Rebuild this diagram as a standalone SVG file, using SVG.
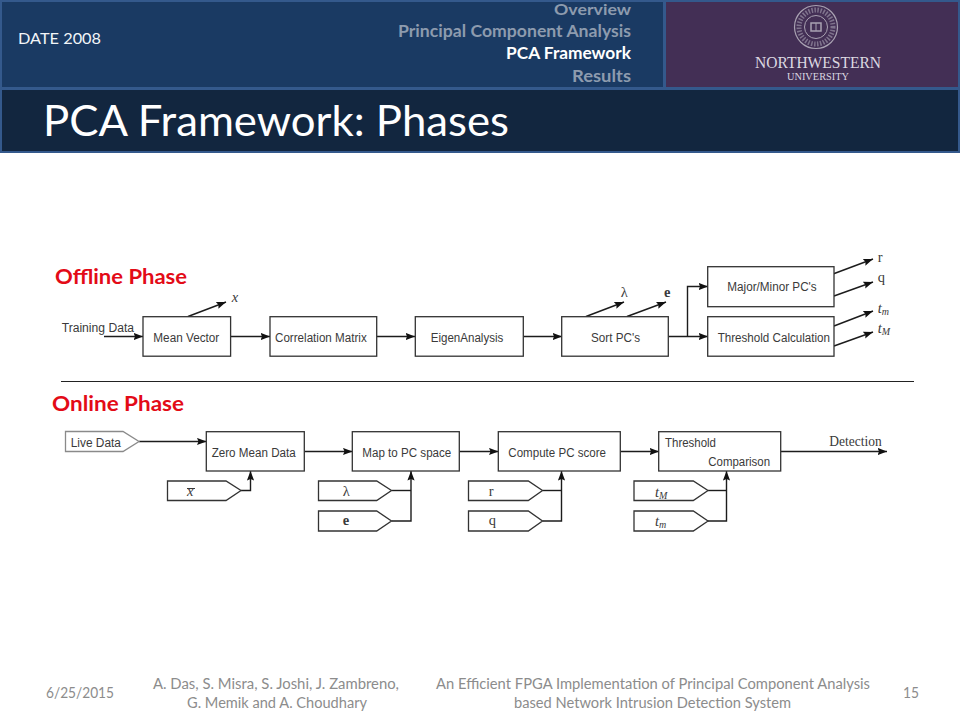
<svg xmlns="http://www.w3.org/2000/svg" width="960" height="720" viewBox="0 0 960 720">
<style>
.ui{font-family:"Lato","Open Sans","Liberation Sans",sans-serif}
.nav{font-size:17px;font-weight:700;fill:#8d9bae;text-anchor:start}
.foot{font-size:14.5px;fill:#8c8c8c}
.phase{font-size:21px;font-weight:700;fill:#e30b17}
.box{fill:#fff;stroke:#333;stroke-width:1.3}
.tag{fill:#fff;stroke:#333;stroke-width:1.3}
.lbl{font-family:"Liberation Sans",Arial,sans-serif;font-size:12.5px;fill:#3a3a3a}
.math{font-family:"Liberation Serif","DejaVu Serif",serif;font-size:14.5px;fill:#3a3a3a}
.it{font-style:italic}
.sub{font-size:10px}
.wire{fill:none;stroke:#1c1c1c;stroke-width:1.4}
.arr{marker-end:url(#head)}
.seal{fill:none;stroke:#a9a2b2}
</style>
<defs>
<marker id="head" markerUnits="userSpaceOnUse" markerWidth="11" markerHeight="8" refX="9.5" refY="4" orient="auto">
<path d="M0,0.4L9.5,4L0,7.6L1.5,4Z" fill="#111"/>
</marker>
</defs>
<rect width="960" height="720" fill="#fff"/>

<g id="header">
<rect x="0" y="0" width="960" height="153" fill="#34598c"/>
<rect x="2" y="2" width="661" height="85" fill="#1a3a63"/>
<rect x="666" y="2" width="292" height="85" fill="#432f55"/>
<rect x="2" y="90" width="956" height="61" fill="#12263f"/>
<text class="ui" x="18" y="44" font-size="16" fill="#f2f5f8" textLength="83" lengthAdjust="spacingAndGlyphs">DATE 2008</text>
<text class="ui nav" x="554" y="15" style="font-size:15px" textLength="77" lengthAdjust="spacingAndGlyphs">Overview</text>
<text class="ui nav" x="398" y="37" textLength="233" lengthAdjust="spacingAndGlyphs">Principal Component Analysis</text>
<text class="ui nav" x="506" y="59" style="fill:#fff" textLength="125" lengthAdjust="spacingAndGlyphs">PCA Framework</text>
<text class="ui nav" x="572" y="82" textLength="59" lengthAdjust="spacingAndGlyphs">Results</text>
<text class="ui" x="43" y="136" font-size="42" fill="#fff" textLength="466" lengthAdjust="spacingAndGlyphs">PCA Framework: Phases</text>
</g>

<g id="logo">
<circle class="seal" cx="816" cy="27" r="21.5" stroke-width="1.2"/>
<circle class="seal" cx="816" cy="27" r="17" stroke-width="5" stroke-dasharray="1.5 1.5" opacity="0.6"/>
<circle class="seal" cx="816" cy="27" r="11.5" stroke-width="1"/>
<rect class="seal" x="811" y="23" width="10" height="8" stroke-width="1.5"/>
<path class="seal" d="M816,23V31" stroke-width="1"/>
<text x="755" y="68" font-family="'Liberation Serif',serif" font-size="16" fill="#dcd8e1" textLength="126" lengthAdjust="spacingAndGlyphs">NORTHWESTERN</text>
<text x="787" y="80" font-family="'Liberation Serif',serif" font-size="10.5" fill="#dcd8e1" textLength="62" lengthAdjust="spacingAndGlyphs">UNIVERSITY</text>
</g>

<text class="ui phase" x="55" y="284" textLength="132" lengthAdjust="spacingAndGlyphs">Offline Phase</text>
<text class="ui phase" x="52" y="411" textLength="132" lengthAdjust="spacingAndGlyphs">Online Phase</text>

<g id="connectors">
<path class="wire arr" d="M104,336.5H143"/>
<path class="wire arr" d="M231,336.5H270"/>
<path class="wire arr" d="M377,336.5H415"/>
<path class="wire arr" d="M523.5,336.5H562"/>
<path class="wire arr" d="M668.5,336.5H708"/>
<path class="wire arr" d="M687.5,336.5V286.5H708"/>
<path class="wire arr" d="M188,316.5L226,302"/>
<path class="wire arr" d="M586,316.5L624,302"/>
<path class="wire arr" d="M627,316.5L666,302"/>
<path class="wire arr" d="M833,274L873,259"/>
<path class="wire arr" d="M834,296L873,282"/>
<path class="wire arr" d="M834,326L873,311"/>
<path class="wire arr" d="M834,346L873,332"/>
<path d="M61,381.5H914" fill="none" stroke="#222" stroke-width="1"/>
<path class="wire arr" d="M139,441.5H206.5"/>
<path class="wire arr" d="M304.5,451.5H352.5"/>
<path class="wire arr" d="M459.5,451.5H498.5"/>
<path class="wire arr" d="M620.5,451.5H659"/>
<path class="wire arr" d="M781,451.5H887"/>
<path class="wire arr" d="M241,490.5H250.5V471"/>
<path class="wire arr" d="M391.5,521H411V471"/>
<path class="wire" d="M391.5,490.5H411"/>
<path class="wire arr" d="M542.5,521H561.5V471"/>
<path class="wire" d="M542.5,490.5H561.5"/>
<path class="wire arr" d="M708,521H726.5V471"/>
<path class="wire" d="M708,490.5H726.5"/>
</g>

<g id="n-training"><text class="lbl" x="61.7" y="331.7" textLength="72.3" lengthAdjust="spacingAndGlyphs">Training Data</text></g>
<g id="n-mean"><rect class="box" x="143" y="316.7" width="87.6" height="39.5"/><text class="lbl" x="153.3" y="341.7" textLength="66" lengthAdjust="spacingAndGlyphs">Mean Vector</text></g>
<g id="n-corr"><rect class="box" x="270" y="316.7" width="106.7" height="39.5"/><text class="lbl" x="275" y="341.7" textLength="91.7" lengthAdjust="spacingAndGlyphs">Correlation Matrix</text></g>
<g id="n-eigen"><rect class="box" x="415.3" y="316.7" width="108" height="39.5"/><text class="lbl" x="430.7" y="341.7" textLength="72.6" lengthAdjust="spacingAndGlyphs">EigenAnalysis</text></g>
<g id="n-sort"><rect class="box" x="561.7" y="316.7" width="106.6" height="39.5"/><text class="lbl" x="591" y="341.7" textLength="49" lengthAdjust="spacingAndGlyphs">Sort PC's</text></g>
<g id="n-major"><rect class="box" x="707.7" y="266.7" width="126.3" height="40"/><text class="lbl" x="727.3" y="291" textLength="89.4" lengthAdjust="spacingAndGlyphs">Major/Minor PC's</text></g>
<g id="n-threshold"><rect class="box" x="707.7" y="316.7" width="126.3" height="39.5"/><text class="lbl" x="717.7" y="341.7" textLength="112.3" lengthAdjust="spacingAndGlyphs">Threshold Calculation</text></g>

<g id="out-labels">
<text class="math it" x="231.7" y="302">x</text>
<text class="math" x="620.7" y="296.7">λ</text>
<text class="math" x="664" y="296.7" font-weight="700">e</text>
<text class="math" x="877.7" y="261.7">r</text>
<text class="math" x="877.7" y="281.7">q</text>
<text class="math it" x="877.7" y="313">t<tspan class="sub" dy="2">m</tspan></text>
<text class="math it" x="877.7" y="332.7">t<tspan class="sub" dy="2">M</tspan></text>
</g>

<g id="n-live"><path d="M65.5,431.5H123L139,441.5L123,451.5H65.5Z" fill="#fff" stroke="#8a8a8a" stroke-width="1.3"/><text class="lbl" x="70.7" y="446.7" textLength="50.3" lengthAdjust="spacingAndGlyphs">Live Data</text></g>
<g id="n-zero"><rect class="box" x="206.3" y="431.7" width="98" height="39.3"/><text class="lbl" x="211.7" y="456.7" textLength="84" lengthAdjust="spacingAndGlyphs">Zero Mean Data</text></g>
<g id="n-map"><rect class="box" x="352.3" y="431.7" width="107" height="39.3"/><text class="lbl" x="362.3" y="456.7" textLength="89" lengthAdjust="spacingAndGlyphs">Map to PC space</text></g>
<g id="n-compute"><rect class="box" x="498.3" y="431.7" width="122" height="39.3"/><text class="lbl" x="508.3" y="456.7" textLength="97.7" lengthAdjust="spacingAndGlyphs">Compute PC score</text></g>
<g id="n-compare"><rect class="box" x="658.7" y="431.7" width="122" height="39.3"/><text class="lbl" x="665" y="446.7" textLength="51" lengthAdjust="spacingAndGlyphs">Threshold</text><text class="lbl" x="708.3" y="466" textLength="61.7" lengthAdjust="spacingAndGlyphs">Comparison</text></g>
<g id="n-detection"><text class="math" x="829.3" y="446" textLength="52.4" lengthAdjust="spacingAndGlyphs">Detection</text></g>

<g id="n-xbar"><path class="tag" d="M167.5,481H226L241,490.5L226,500.5H167.5Z"/><text class="math it" x="187" y="495.5">x</text><path d="M187,488.5H195" fill="none" stroke="#3a3a3a" stroke-width="1"/></g>
<g id="n-lambda"><path class="tag" d="M318.5,481H376.7L391.5,490.5L376.7,500.5H318.5Z"/><text class="math" x="342.7" y="495.5">λ</text></g>
<g id="n-e"><path class="tag" d="M318.5,511H376.7L391.5,521L376.7,531H318.5Z"/><text class="math" x="342.7" y="525" font-weight="700">e</text></g>
<g id="n-r"><path class="tag" d="M468.5,481H528.3L542.5,490.5L528.3,500.5H468.5Z"/><text class="math" x="488.7" y="496">r</text></g>
<g id="n-q"><path class="tag" d="M468.5,511H528.3L542.5,521L528.3,531H468.5Z"/><text class="math" x="488.7" y="525">q</text></g>
<g id="n-tM"><path class="tag" d="M634,481H693.3L708,490.5L693.3,500.5H634Z"/><text class="math it" x="655" y="497">t<tspan class="sub" dy="2">M</tspan></text></g>
<g id="n-tm"><path class="tag" d="M634,511H693.3L708,521L693.3,531H634Z"/><text class="math it" x="655" y="526">t<tspan class="sub" dy="2">m</tspan></text></g>

<g id="footer">
<text class="ui foot" x="46" y="698" textLength="68" lengthAdjust="spacingAndGlyphs">6/25/2015</text>
<text class="ui foot" x="153" y="689" textLength="246" lengthAdjust="spacingAndGlyphs">A. Das, S. Misra, S. Joshi, J. Zambreno,</text>
<text class="ui foot" x="187" y="708" textLength="180" lengthAdjust="spacingAndGlyphs">G. Memik and A. Choudhary</text>
<text class="ui foot" x="436" y="689" textLength="434" lengthAdjust="spacingAndGlyphs">An Efficient FPGA Implementation of Principal Component Analysis</text>
<text class="ui foot" x="514" y="708" textLength="277" lengthAdjust="spacingAndGlyphs">based Network Intrusion Detection System</text>
<text class="ui foot" x="903" y="698" textLength="16" lengthAdjust="spacingAndGlyphs">15</text>
</g>
</svg>
